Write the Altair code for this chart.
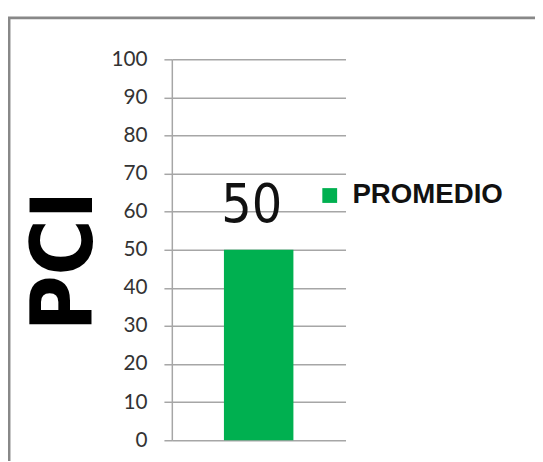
import altair as alt
import pandas as pd

series = ["PROMEDIO"]
valores = [50]
y_ticks = [0, 10, 20, 30, 40, 50, 60, 70, 80, 90, 100]

df = pd.DataFrame({"serie": series, "valor": valores})

GREEN = "#00B050"
GRID = "#a6a6a6"

base = alt.Chart(df)

xenc = alt.X("serie:N", axis=None,
             scale=alt.Scale(paddingInner=0.6, paddingOuter=0.3))
yenc = alt.Y("valor:Q",
             scale=alt.Scale(domain=[0, 100], nice=False),
             axis=alt.Axis(values=y_ticks, tickCount=11, labelOverlap=False, title="PCI",
                           grid=True, gridColor=GRID, gridWidth=1.5,
                           domainColor=GRID, domainWidth=1.5,
                           tickColor=GRID, tickWidth=1.5, tickSize=8,
                           labelFont="Lato", labelFontSize=21, labelColor="#333333",
                           labelPadding=17,
                           titleFont="DejaVu Sans Condensed",
                           titleFontSize=86, titleFontWeight="bold", titleColor="#000000",
                           titleAngle=270, titleAlign="center", titleBaseline="middle",
                           titleX=-107, titleY=204))

border = base.mark_rect(fill="transparent", stroke="#888888", strokeWidth=3).encode(
    x=alt.value(-165), x2=alt.value(700), y=alt.value(-42), y2=alt.value(700)
)

bars = base.mark_bar().encode(
    x=xenc,
    y=yenc,
    color=alt.Color("serie:N", scale=alt.Scale(range=[GREEN]),
                    legend=alt.Legend(title=None, orient="none", legendX=146, legendY=124,
                                      padding=0, symbolType="square", symbolSize=225,
                                      symbolStrokeWidth=0, labelOffset=9,
                                      labelFont="Liberation Sans, Arial, sans-serif",
                                      labelFontSize=28, labelFontWeight="bold",
                                      labelColor="#111111")),
)

labels = base.mark_text(baseline="alphabetic", align="center", dy=-28, dx=-7,
                        font="DejaVu Sans Condensed",
                        fontSize=54, color="#111111").encode(
    x=xenc, y=yenc, text="valor:Q"
)

chart = alt.layer(border, bars, labels).properties(
    width=176, height=386,
    padding={"left": 166, "top": 49, "right": 192, "bottom": 18},
    autosize=alt.AutoSizeParams(type="none"),
).configure_view(strokeWidth=0)

chart.save("out.html", embed_options={"renderer": "svg", "actions": False})
